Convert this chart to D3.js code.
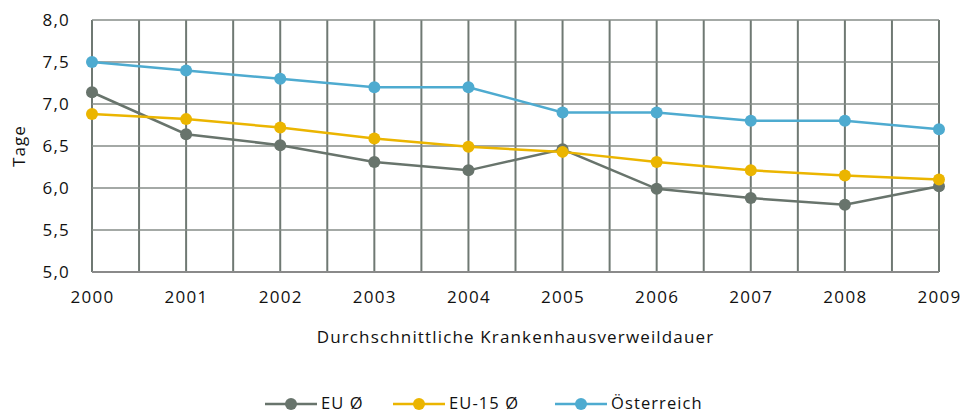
<!DOCTYPE html>
<html>
<head>
<meta charset="utf-8">
<script src="https://cdn.jsdelivr.net/npm/d3@7"></script>
<style>
  body { margin: 0; background: #fff; }
  text { font-family: "Open Sans", "DejaVu Sans", sans-serif; fill: #111; }
</style>
</head>
<body>
<svg id="chart" width="969" height="414"></svg>
<script>
// data
var years = [2000, 2001, 2002, 2003, 2004, 2005, 2006, 2007, 2008, 2009];
var eu = [7.14, 6.64, 6.51, 6.31, 6.21, 6.46, 5.99, 5.88, 5.80, 6.02];
var eu15 = [6.88, 6.82, 6.72, 6.59, 6.49, 6.43, 6.31, 6.21, 6.15, 6.10];
var oesterreich = [7.5, 7.4, 7.3, 7.2, 7.2, 6.9, 6.9, 6.8, 6.8, 6.7];
var seriesNames = ["EU Ø", "EU-15 Ø", "Österreich"];
var yTicks = [5.0, 5.5, 6.0, 6.5, 7.0, 7.5, 8.0];

var colors = ["#68746c", "#ebb500", "#4eabd0"];
var series = [eu, eu15, oesterreich];

var svg = d3.select("#chart");
var pLeft = 92, pRight = 939, pTop = 20, pBottom = 272;

var x = d3.scaleLinear().domain([2000, 2009]).range([pLeft, pRight]);
var y = d3.scaleLinear().domain([5, 8]).range([pBottom, pTop]);

var fmt = function(v){ return d3.format(".1f")(v).replace(".", ","); };

// vertical grid (years and half years)
var vgrid = d3.range(2000, 2009.01, 0.5);
svg.append("g").selectAll("line").data(vgrid).enter().append("line")
  .attr("x1", d => x(d)).attr("x2", d => x(d))
  .attr("y1", pTop).attr("y2", pBottom)
  .attr("stroke", "#6f7973").attr("stroke-width", 2);

// horizontal grid
svg.append("g").selectAll("line").data(yTicks).enter().append("line")
  .attr("x1", pLeft).attr("x2", pRight)
  .attr("y1", d => y(d)).attr("y2", d => y(d))
  .attr("stroke", "#868c88").attr("stroke-width", 1.5);

svg.append("line").attr("x1", pLeft).attr("x2", pRight)
  .attr("y1", pBottom).attr("y2", pBottom)
  .attr("stroke", "#8a8a8a").attr("stroke-width", 2);

// y axis labels
var yAxis = d3.axisLeft(y).tickValues(yTicks).tickFormat(fmt).tickSize(0).tickPadding(22);
var gy = svg.append("g").attr("transform", "translate(" + pLeft + ",0)").call(yAxis);
gy.select(".domain").remove();
gy.selectAll("text").attr("font-size", "17px").style("letter-spacing", "1.2px")
  .attr("font-family", null).attr("fill", "#111");

// x axis labels
var xAxis = d3.axisBottom(x).tickValues(years).tickFormat(d3.format("d")).tickSize(0).tickPadding(19);
var gx = svg.append("g").attr("transform", "translate(0," + pBottom + ")").call(xAxis);
gx.select(".domain").remove();
gx.selectAll("text").attr("font-size", "17px").style("letter-spacing", "1.3px")
  .attr("font-family", null).attr("fill", "#111");

svg.append("text").attr("transform", "translate(25," + ((pTop + pBottom) / 2) + ") rotate(-90)")
  .attr("text-anchor", "middle").attr("font-size", "17px").style("letter-spacing", "1.1px")
  .text("Tage");

svg.append("text").attr("x", (pLeft + pRight) / 2).attr("y", 343)
  .attr("text-anchor", "middle").attr("font-size", "17px").style("letter-spacing", "1.15px")
  .text("Durchschnittliche Krankenhausverweildauer");

// lines and points
var line = d3.line().x((d, i) => x(years[i])).y(d => y(d));
series.forEach(function(s, k){
  var g = svg.append("g");
  g.append("path").datum(s).attr("d", line)
    .attr("fill", "none").attr("stroke", colors[k]).attr("stroke-width", 2.5);
  g.selectAll("circle").data(s).enter().append("circle")
    .attr("cx", (d, i) => x(years[i])).attr("cy", d => y(d))
    .attr("r", 6).attr("fill", colors[k]);
});

// legend
var legX = [265, 393, 555];
var leg = svg.append("g").selectAll("g").data(seriesNames).enter().append("g")
  .attr("transform", (d, i) => "translate(" + legX[i] + ",404)");
leg.append("line").attr("x1", 0).attr("x2", 52).attr("y1", 0).attr("y2", 0)
  .attr("stroke", (d, i) => colors[i]).attr("stroke-width", 2.5);
leg.append("circle").attr("cx", 26).attr("cy", 0).attr("r", 6)
  .attr("fill", (d, i) => colors[i]);
leg.append("text").attr("x", 56).attr("y", 5).attr("font-size", "16.5px")
  .style("letter-spacing", "1.1px").text(d => d);
</script>
</body>
</html>
